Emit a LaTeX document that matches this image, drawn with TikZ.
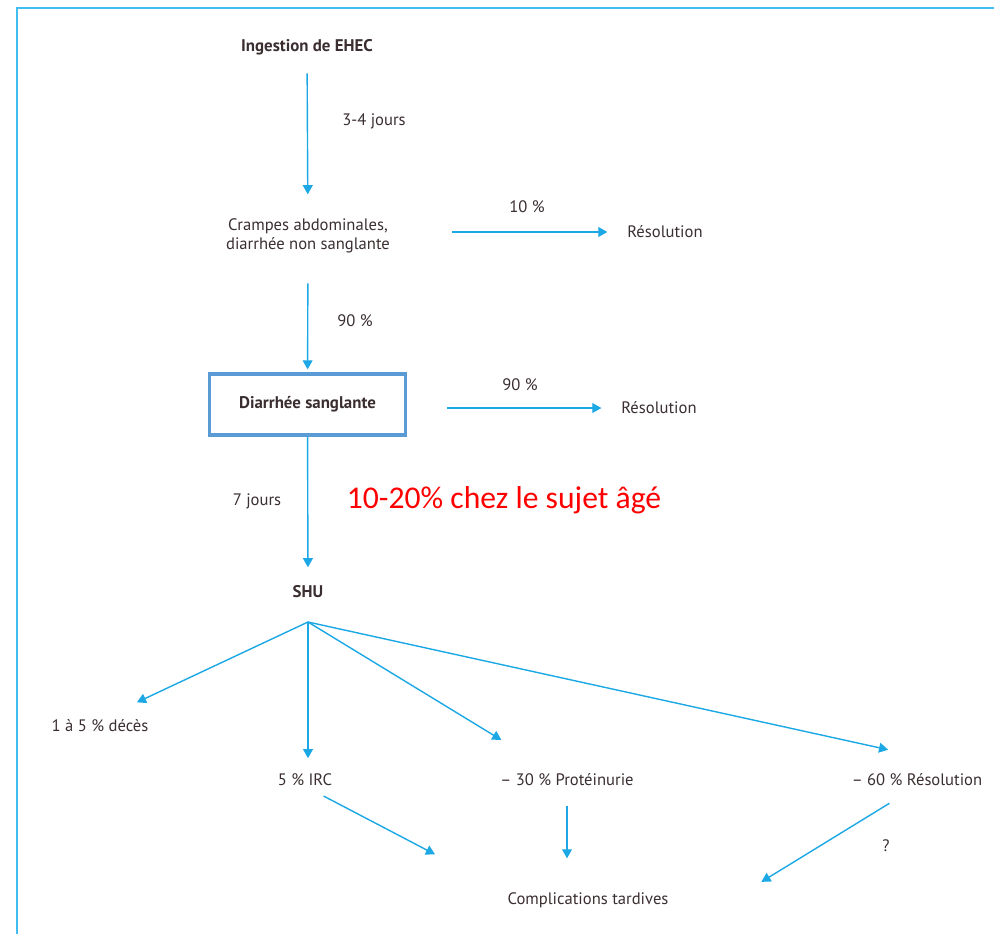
\documentclass[tikz,border=0pt]{standalone}
\usepackage{fontspec}
\setmainfont{PT Sans}
\newfontfamily\calibri{Carlito}
\usetikzlibrary{calc}
\usetikzlibrary{arrows.meta}

\definecolor{pfeilblau}{RGB}{27,168,228}
\definecolor{rahmenblau}{RGB}{64,190,240}
\definecolor{kastenblau}{RGB}{91,155,213}
\definecolor{schrift}{RGB}{58,46,48}

\begin{document}
\begin{tikzpicture}[x = 0.025cm, y = -0.025cm,
        txt/.style = {inner sep = 0pt, text = schrift, align = center, font = \fontsize{11.8}{14}\selectfont},
        fett/.style = {txt, font = \fontsize{12}{14}\selectfont\bfseries},
        pfeil/.style = {pfeilblau, line width = 1pt, -{Triangle[length = 6.5pt, width = 7pt]}}]

    \useasboundingbox (0,0) rectangle (994,934);
    \draw[rahmenblau, line width = 2pt](17,934) -- (17,8) -- (994,8);

    \node[fett] (ingestion) at (307,47) {Ingestion de EHEC};
    \node[txt] (crampes) at (308,236) {Crampes abdominales,\\diarrh\'ee non sanglante};
    \node[fett, draw = kastenblau, line width = 2.5pt, minimum width = 4.9cm, minimum height = 1.525cm] (diarrhee) at (307.5,404.5) {Diarrh\'ee sanglante};
    \node[fett] (shu) at (308,592) {SHU};
    \coordinate (fan) at (308,622);

    \node[txt] (resEins) at (665,232) {R\'esolution};
    \node[txt] (resZwei) at (659,408) {R\'esolution};

    \node[txt] (deces) at (100,726) {1 \`a 5 \% d\'ec\`es};
    \node[txt] (irc) at (305,780) {5 \% IRC};
    \node[txt] (prot) at (567,780) {\textendash{} 30 \% Prot\'einurie};
    \node[txt] (resDrei) at (917,780) {\textendash{} 60 \% R\'esolution};
    \node[txt] (compl) at (588,900) {Complications tardives};

    \node[txt] (tage) at (374,121) {3-4 jours};
    \node[txt] (pZehn) at (527,207) {10 \%};
    \node[txt] (pNeunzig) at (355,321) {90 \%};
    \node[txt] (pNeunzigB) at (520,385) {90 \%};
    \node[txt] (woche) at (257,501) {7 jours};
    \node[text = red, inner sep = 0pt, font = \calibri\fontsize{22.5}{27}\selectfont] (alter) at (504,500) {10-20\% chez le sujet \^ag\'e};
    \node[txt] (frage) at (886,846) {?};

    \draw[pfeil, shorten < = 13pt, shorten > = 17pt](ingestion) -- (crampes);
    \draw[pfeil, shorten < = 44pt, shorten > = 14pt](crampes.east |- resEins) -- (resEins);
    \draw[pfeil, shorten < = 21pt, shorten > = 2pt](crampes) -- (diarrhee);
    \draw[pfeil, shorten < = 28pt, shorten > = 14pt](diarrhee.east |- resZwei) -- (resZwei);
    \draw[pfeil, shorten > = 13pt](diarrhee) -- (shu);

    \draw[pfeil, shorten > = 29pt](fan) -- (deces.north);
    \draw[pfeil, shorten > = 11pt](fan) -- (fan |- irc.north);
    \draw[pfeil, shorten > = 46pt](fan) -- (prot);
    \draw[pfeil, shorten > = 21pt](fan) -- ([yshift = 12.5pt]resDrei.north);

    \draw[pfeil, shorten < = 15pt, shorten > = 58pt](irc.south) -- (compl.north west);
    \draw[pfeil, shorten < = 14pt, shorten > = 24pt](prot.south) -- (prot.south |- compl.north);
    \draw[pfeil, shorten < = 23pt, shorten > = 14pt](resDrei.south) -- ([xshift = 54pt]compl.north east);
\end{tikzpicture}
\end{document}
